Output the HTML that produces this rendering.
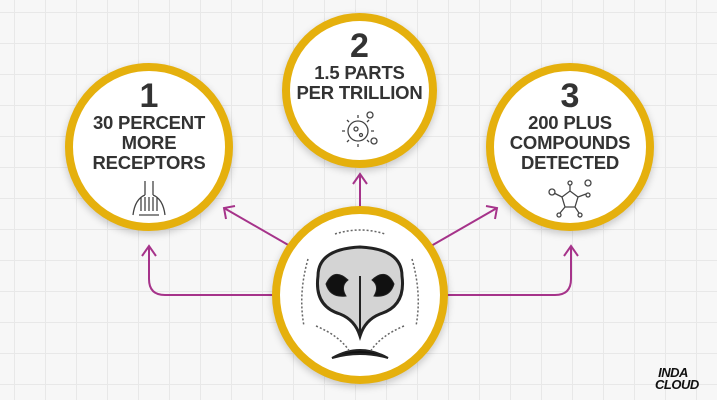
<!DOCTYPE html><html><head><style>
body{margin:0;width:717px;height:400px;overflow:hidden;background:#f7f7f7;
background-image:linear-gradient(#e8e8e8 1px,transparent 1px),linear-gradient(90deg,#e8e8e8 1px,transparent 1px);background-size:31px 31px;background-position:14px 12px;font-family:"Liberation Sans",sans-serif;position:relative}
.c{position:absolute;border-radius:50%;background:#fff;border:8px solid #e5b00d;box-sizing:border-box;box-shadow:0 3px 8px rgba(0,0,0,.2);text-align:center;color:#333;font-weight:bold}
.n{font-size:34px;line-height:34px}
.t{font-size:18.5px;line-height:20px;letter-spacing:-0.2px}
svg{position:absolute;left:0;top:0}
</style></head><body>
<svg width="717" height="400">
<g fill="none" stroke="#a6338a" stroke-width="2">
<path d="M276 295 H165 Q149 295 149 279 V246"/><path d="M142 256 L149 246 L156 256"/>
<path d="M444 295 H555 Q571 295 571 279 V246"/><path d="M564 256 L571 246 L578 256"/>
<path d="M360 208 V174"/><path d="M353 184 L360 174 L367 184"/>
<path d="M290 246 L224 208"/><path d="M226 219 L224 208 L235 206"/>
<path d="M431 246 L497 208"/><path d="M495 219 L497 208 L486 206"/>
</g></svg>
<div class="c" style="left:65px;top:63px;width:168px;height:168px;padding-top:8px"><div class="n">1</div><div class="t">30 PERCENT<br>MORE<br>RECEPTORS</div>
<svg style="position:relative;margin-top:8px" width="40" height="36"><g fill="none" stroke="#444" stroke-width="1.3"><path d="M16 0V14M24 0V14M16 14Q6 18 4 34M24 14Q34 18 36 34M12 16V30M16 16V30M20 16V30M24 16V30M28 16V30M10 34H30"/></g></svg></div>
<div class="c" style="left:282px;top:13px;width:155px;height:155px;padding-top:8px"><div class="n">2</div><div class="t">1.5 PARTS<br>PER TRILLION</div>
<svg style="position:relative;margin-top:6px" width="40" height="40"><g fill="none" stroke="#444" stroke-width="1.3"><circle cx="18" cy="22" r="10"/><circle cx="30" cy="6" r="3"/><circle cx="34" cy="32" r="3"/><circle cx="16" cy="20" r="2"/><circle cx="21" cy="26" r="1.5"/><path d="M18 9V6M18 35V38M5 22H2M31 22H34M9 13L7 11M27 31L29 33M27 13L29 11M9 31L7 33"/></g></svg></div>
<div class="c" style="left:486px;top:63px;width:168px;height:168px;padding-top:8px"><div class="n">3</div><div class="t">200 PLUS<br>COMPOUNDS<br>DETECTED</div>
<svg style="position:relative;margin-top:6px" width="44" height="40"><g fill="none" stroke="#444" stroke-width="1.3"><path d="M14 18L22 12L30 18L27 28L17 28Z M22 12V6M30 18L38 15M17 28L12 34M27 28L31 34M14 18L6 14"/><circle cx="22" cy="4" r="2"/><circle cx="40" cy="4" r="3"/><circle cx="4" cy="13" r="3"/><circle cx="40" cy="16" r="2"/><circle cx="11" cy="36" r="2"/><circle cx="32" cy="36" r="2"/></g></svg></div>
<div class="c" style="left:272px;top:206px;width:176px;height:178px;overflow:hidden">
<svg width="160" height="162" style="left:0;top:0"><g fill="none" stroke="#222">
<path d="M38 62 Q38 35 80 33 Q122 35 122 62 Q126 92 100 100 Q85 106 80 122 Q75 106 60 100 Q34 92 38 62Z" fill="#d4d4d4" stroke-width="3"/>
<path d="M46 70 Q54 53 68 66 Q60 72 66 82 Q50 84 46 70Z M114 70 Q106 53 92 66 Q100 72 94 82 Q110 84 114 70Z" fill="#111"/>
<path d="M80 62 V122 M52 144 Q80 128 108 144 Q80 136 52 144Z" stroke-width="2" fill="#111"/>
<path d="M28 45 Q18 80 24 112 M132 45 Q142 80 136 112 M36 112 Q60 122 70 138 M124 112 Q100 122 90 138 M55 20 Q80 12 105 20" stroke="#666" stroke-dasharray="2 2" stroke-width="1.5"/>
</g></svg></div>
<div style="position:absolute;left:655px;top:367px;font:italic 900 13px/12px 'Liberation Sans',sans-serif;color:#111;letter-spacing:-0.5px">&nbsp;INDA<br>CLOUD</div>
</body></html>
